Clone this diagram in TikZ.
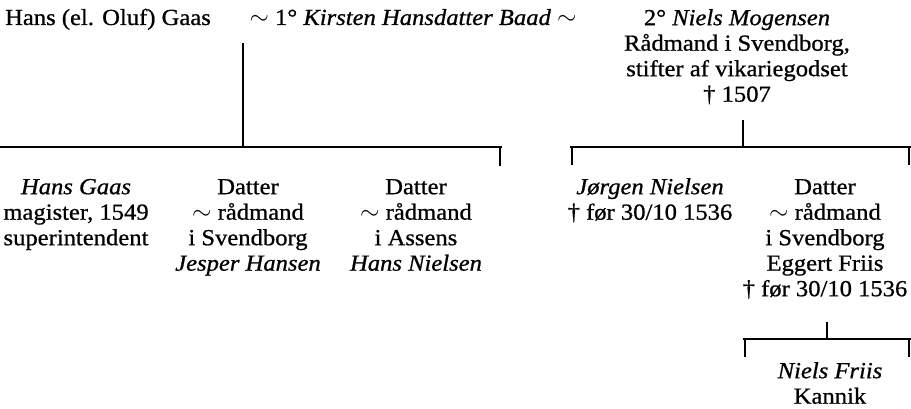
\documentclass[tikz,border=0pt]{standalone}
\usepackage{fontspec}
\setmainfont{Liberation Serif}[FakeStretch=1.07,FakeBold=0.8]
\newcommand\ms{\rule{0pt}{17pt}}
\newcommand\swg{\raisebox{-1pt}{\Large$\boldsymbol{\sim}$}}
\usepackage{amsmath}
\begin{document}
\begin{tikzpicture}[x=1pt,y=-1pt,
  txt/.style={font=\fontsize{23}{25.5}\selectfont, inner sep=0pt, align=center},
  top/.style={txt, anchor=base},
  col/.style={txt, anchor=north},
  ln/.style={line width=1.4pt}]
\useasboundingbox (0,0) rectangle (911,409);
% top row
\node[top] (hans) at (108,25) {Hans (el. Oluf) Gaas};
\node[top] (kirsten) at (413,25) {$\sim$ 1° \textit{Kirsten Hansdatter Baad} $\sim$};
\node[col] (niels) at (737,8) {\ms 2° \textit{Niels Mogensen}\\Rådmand i Svendborg,\\stifter af vikariegodset\\† 1507};
% children
\node[col] (hg) at (76,177) {\ms\textit{Hans Gaas}\\magister, 1549\\superintendent};
\node[col] (d1) at (248,177) {\ms Datter\\$\sim$ rådmand\\i Svendborg\\\textit{Jesper Hansen}};
\node[col] (d2) at (416,177) {\ms Datter\\$\sim$ rådmand\\i Assens\\\textit{Hans Nielsen}};
\node[col] (jn) at (650,177) {\ms\textit{Jørgen Nielsen}\\† før 30/10 1536};
\node[col] (d3) at (825,177) {\ms Datter\\$\sim$ rådmand\\i Svendborg\\Eggert Friis\\† før 30/10 1536};
\node[col] (nf) at (830,361) {\ms\textit{Niels Friis}\\Kannik};
% connector coordinates
\coordinate (a1) at (243,43);
\coordinate (a2) at (243,147);
\coordinate (l1) at (0,147);
\coordinate (l2) at (502,147);
\coordinate (t1) at (500,166);
\coordinate (b1) at (743,120);
\coordinate (b2) at (743,147);
\coordinate (r1) at (570,147);
\coordinate (r2) at (911,147);
\coordinate (rt1a) at (572,147);
\coordinate (rt1b) at (572,165);
\coordinate (rt2a) at (909,147);
\coordinate (rt2b) at (909,165);
\coordinate (c1) at (827,322);
\coordinate (c2) at (827,339);
\coordinate (s1) at (743,339);
\coordinate (s2) at (911,339);
\coordinate (st1a) at (745,339);
\coordinate (st1b) at (745,357);
\coordinate (st2a) at (909,339);
\coordinate (st2b) at (909,357);
% lines
\draw[ln] (a1) -- (a2);
\draw[ln] (l1) -- (l2);
\draw[ln] (l2 -| t1) -- (t1);
\draw[ln] (b1) -- (b2);
\draw[ln] (r1) -- (r2);
\draw[ln] (rt1a) -- (rt1b);
\draw[ln] (rt2a) -- (rt2b);
\draw[ln] (c1) -- (c2);
\draw[ln] (s1) -- (s2);
\draw[ln] (st1a) -- (st1b);
\draw[ln] (st2a) -- (st2b);
\end{tikzpicture}
\end{document}
